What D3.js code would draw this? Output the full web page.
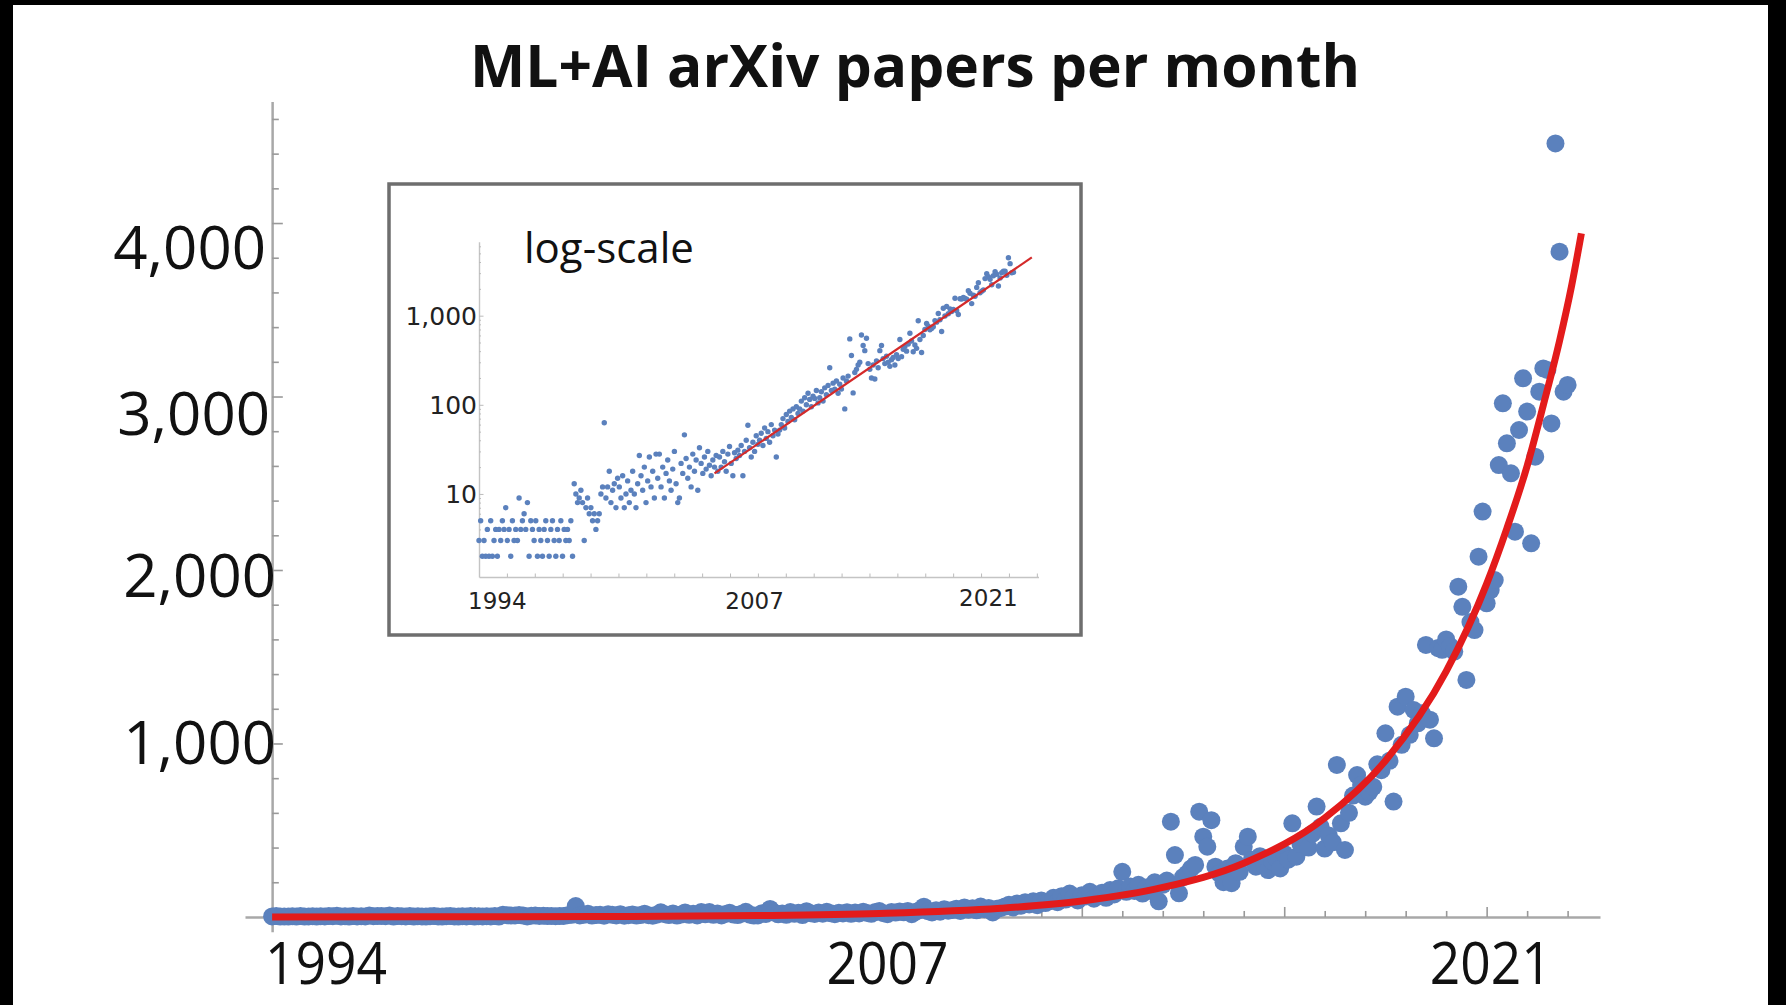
<!DOCTYPE html>
<html>
<head>
<meta charset="utf-8">
<script src="https://cdn.jsdelivr.net/npm/d3@7"></script>
<style>
  html, body { margin: 0; padding: 0; background: #000; }
  svg { display: block; }
</style>
</head>
<body>
<svg id="chart" width="1786" height="1005"></svg>
<script>
// monthly ML+AI arXiv paper counts, one array per year (Jan..Dec)
var c1994 = [3, 5, 2, 3, 2, 4, 2, 5, 2, 3, 4, 2];
var c1995 = [4, 3, 5, 4, 7, 3, 4, 2, 5, 3, 4, 3];
var c1996 = [9, 4, 5, 6, 4, 8, 2, 5, 4, 3, 5, 2];
var c1997 = [4, 3, 2, 4, 5, 3, 2, 4, 5, 3, 2, 4];
var c1998 = [3, 5, 2, 4, 3, 4, 3, 5, 2, 13, 10, 8];
var c1999 = [9, 11, 8, 3, 7, 9, 6, 7, 5, 6, 4, 5];
var c2000 = [6, 10, 12, 63, 9, 12, 18, 8, 11, 13, 7, 15];
var c2001 = [12, 9, 16, 7, 10, 14, 8, 11, 18, 10, 7, 13];
var c2002 = [27, 16, 11, 20, 8, 14, 26, 12, 18, 9, 28, 15];
var c2003 = [28, 12, 20, 9, 17, 24, 14, 11, 19, 30, 13, 8];
var c2004 = [9, 22, 17, 46, 25, 15, 20, 12, 28, 18, 24, 11];
var c2005 = [33, 22, 17, 26, 19, 30, 21, 16, 24, 20, 27, 18];
var c2006 = [26, 20, 30, 23, 18, 28, 34, 22, 16, 29, 25, 31];
var c2007 = [27, 35, 16, 30, 40, 59, 33, 26, 38, 30, 45, 36];
var c2008 = [40, 48, 35, 55, 42, 50, 38, 60, 45, 52, 26, 47];
var c2009 = [52, 60, 70, 55, 78, 65, 85, 72, 90, 68, 95, 80];
var c2010 = [90, 110, 85, 120, 100, 135, 115, 95, 125, 118, 145, 105];
var c2011 = [120, 140, 110, 155, 130, 165, 260, 145, 175, 150, 185, 135];
var c2012 = [170, 150, 200, 90, 185, 210, 549, 357, 136, 230, 250, 280];
var c2013 = [300, 607, 463, 405, 558, 290, 250, 200, 280, 195, 310, 260];
var c2014 = [405, 463, 330, 290, 350, 300, 270, 320, 340, 280, 365, 330];
var c2015 = [540, 347, 420, 450, 400, 480, 636, 520, 394, 470, 430, 876];
var c2016 = [540, 386, 600, 700, 818, 760, 693, 720, 750, 880, 846, 1059];
var c2017 = [900, 665, 1212, 992, 1270, 1050, 1193, 1116, 1174, 1568, 1137, 1030];
var c2018 = [1550, 1540, 1600, 1560, 1530, 1904, 1788, 1366, 1700, 1654, 2077, 2337];
var c2019 = [1808, 1884, 1942, 2605, 2961, 2730, 2557, 2221, 2807, 3105, 2913, 2154];
var c2020 = [2653, 3028, 3162, 3153, 2845, 4459, 3835, 3028, 3067];

// red fitted curve (month index -> papers)
var fitIdx = [0, 40, 80, 120, 150, 180, 200, 220, 240, 260, 275, 290, 300, 305, 310, 314, 318, 321, 323.4];
var fitVal = [0.2, 0.7, 2.4, 8, 20, 50, 92, 170, 310, 570, 900, 1415, 1920, 2240, 2600, 2950, 3320, 3640, 3940];

// straight fit in the log inset
var logFitIdx = [141, 331];
var logFitVal = [17, 4500];

var title = "ML+AI arXiv papers per month";
var yLabels = [1000, 2000, 3000, 4000];
var xLabels = ["1994", "2007", "2021"];
var xLabelAt = [13.3, 152, 301];        // month index under each year label (main)
var inYLabels = [10, 100, 1000];
var inXLabelAt = [11, 165, 305];         // month index under each year label (inset)

var counts = [].concat(c1994, c1995, c1996, c1997, c1998, c1999, c2000, c2001, c2002,
  c2003, c2004, c2005, c2006, c2007, c2008, c2009, c2010, c2011, c2012, c2013, c2014,
  c2015, c2016, c2017, c2018, c2019, c2020);
var pts = counts.map(function(v, i) { return {i: i, v: v}; });

var blue = "#5b81bd", red = "#e31b1b", axisGrey = "#a8a8a8", ink = "#111";
var fmt = d3.format(",");

var svg = d3.select("#chart");
svg.append("rect").attr("x", 13).attr("y", 5).attr("width", 1755).attr("height", 1000).attr("fill", "#fff");

svg.append("text")
  .attr("x", 915).attr("y", 87)
  .attr("text-anchor", "middle")
  .attr("font-family", "Open Sans").attr("font-weight", 700).attr("font-size", 59)
  .attr("textLength", 890).attr("lengthAdjust", "spacingAndGlyphs")
  .attr("fill", ink)
  .text(title);

// ---- main plot
var x = d3.scaleLinear().domain([-6.7, 328]).range([245, 1600]);
var y = d3.scaleLinear().domain([-85, 4700]).range([931.7, 101.6]);

var xAxis = svg.append("g")
  .attr("transform", "translate(0," + y(0) + ")")
  .call(d3.axisBottom(x).tickValues(d3.range(0, 321, 10)).tickSizeInner(-6).tickSizeOuter(0).tickFormat(""));
xAxis.select(".domain").attr("stroke", axisGrey).attr("stroke-width", 2.5);
xAxis.selectAll(".tick line").attr("stroke", "#999").attr("stroke-width", 1.6);
xAxis.selectAll(".tick line").filter(function(d) { return d % 50 === 0; }).attr("y2", -10);

var yAxis = svg.append("g")
  .attr("transform", "translate(" + x(0) + ",0)")
  .call(d3.axisLeft(y).tickValues(d3.range(200, 4601, 200)).tickSizeInner(-6.7).tickSizeOuter(0).tickFormat(""));
yAxis.select(".domain").attr("stroke", axisGrey).attr("stroke-width", 2.5);
yAxis.selectAll(".tick line").attr("stroke", "#999").attr("stroke-width", 1.6);
yAxis.selectAll(".tick line").filter(function(d) { return d % 1000 === 0; }).attr("x2", 10.7);

// hand-placed look of the y labels
var yNudgeX = [6, 6, 0, -4], yNudgeY = [0, 6, 17, 25];
svg.append("g").selectAll("text").data(yLabels).join("text")
  .attr("x", function(d, k) { return 270 + yNudgeX[k]; })
  .attr("y", function(d, k) { return y(d) + yNudgeY[k]; })
  .attr("dy", "0.35em")
  .attr("text-anchor", "end")
  .attr("font-family", "Open Sans").attr("font-size", 60).attr("fill", ink)
  .text(function(d) { return fmt(d); });

svg.append("g").selectAll("text").data(xLabels).join("text")
  .attr("x", function(d, k) { return x(xLabelAt[k]); })
  .attr("y", 984)
  .attr("text-anchor", "middle")
  .attr("font-family", "Open Sans").attr("font-size", 59).attr("fill", ink)
  .attr("textLength", 122).attr("lengthAdjust", "spacingAndGlyphs")
  .text(function(d) { return d; });

svg.append("g").selectAll("circle").data(pts).join("circle")
  .attr("cx", function(d) { return x(d.i); })
  .attr("cy", function(d) { return y(d.v); })
  .attr("r", 9)
  .attr("fill", blue);

var fit = fitIdx.map(function(t, k) { return {i: t, v: fitVal[k]}; });
svg.append("path").datum(fit)
  .attr("d", d3.line().x(function(d) { return x(d.i); }).y(function(d) { return y(d.v); }).curve(d3.curveMonotoneX))
  .attr("fill", "none").attr("stroke", red).attr("stroke-width", 7);

// ---- log-scale inset
svg.append("rect")
  .attr("x", 389).attr("y", 184).attr("width", 692).attr("height", 451)
  .attr("fill", "#fff").attr("stroke", "#6e6e6e").attr("stroke-width", 3.5);

var xi = d3.scaleLinear().domain([0, 335]).range([479, 1038.5]);
var yi = d3.scaleLog().domain([1.17, 6760]).range([577, 241.7]);

var inX = svg.append("g")
  .attr("transform", "translate(0,577)")
  .call(d3.axisBottom(xi).tickValues(d3.range(0, 335, 16.7)).tickSizeInner(-3.5).tickSizeOuter(0).tickFormat(""));
inX.select(".domain").attr("stroke", "#c4c4c4").attr("stroke-width", 1.4);
inX.selectAll(".tick line").attr("stroke", "#bbb").attr("stroke-width", 1);

var logTicks = [];
[1, 10, 100, 1000].forEach(function(dec) {
  d3.range(1, 10).forEach(function(m) {
    var t = m * dec;
    if (t >= 2 && t <= 6000) logTicks.push(t);
  });
});
var inY = svg.append("g")
  .attr("transform", "translate(479,0)")
  .call(d3.axisLeft(yi).tickValues(logTicks).tickSizeInner(-2).tickSizeOuter(0).tickFormat(""));
inY.select(".domain").attr("stroke", "#c4c4c4").attr("stroke-width", 1.4);
inY.selectAll(".tick line").attr("stroke", "#bbb").attr("stroke-width", 1);
inY.selectAll(".tick line").filter(function(d) { return inYLabels.indexOf(d) >= 0; }).attr("x2", 4.5);

svg.append("g").selectAll("text").data(inYLabels).join("text")
  .attr("x", 477)
  .attr("y", function(d) { return yi(d); })
  .attr("dy", "0.36em")
  .attr("text-anchor", "end")
  .attr("font-family", "DejaVu Sans").attr("font-size", 25).attr("fill", "#222")
  .text(function(d) { return fmt(d); });

svg.append("g").selectAll("text").data(xLabels).join("text")
  .attr("x", function(d, k) { return xi(inXLabelAt[k]); })
  .attr("y", function(d, k) { return k === 2 ? 606 : 609; })
  .attr("text-anchor", "middle")
  .attr("font-family", "DejaVu Sans").attr("font-size", 23).attr("fill", "#222")
  .text(function(d) { return d; });

svg.append("text")
  .attr("x", 524).attr("y", 263)
  .attr("font-family", "Open Sans").attr("font-size", 42).attr("fill", ink)
  .text("log-scale");

svg.append("g").selectAll("circle").data(pts).join("circle")
  .attr("cx", function(d) { return xi(d.i); })
  .attr("cy", function(d) { return yi(d.v); })
  .attr("r", 2.7)
  .attr("fill", blue);

var logFit = logFitIdx.map(function(t, k) { return {i: t, v: logFitVal[k]}; });
svg.append("path").datum(logFit)
  .attr("d", d3.line().x(function(d) { return xi(d.i); }).y(function(d) { return yi(d.v); }))
  .attr("fill", "none").attr("stroke", "#d42a2a").attr("stroke-width", 2.2);
</script>
</body>
</html>
